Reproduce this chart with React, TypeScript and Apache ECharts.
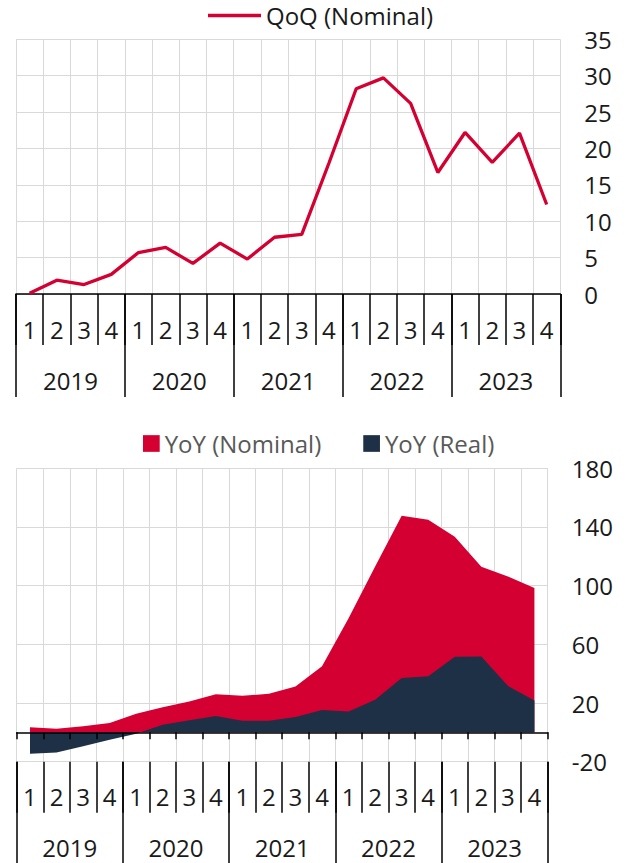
import React, { useEffect, useRef } from 'react';
import * as echarts from 'echarts';

const quarters = ['1', '2', '3', '4', '1', '2', '3', '4', '1', '2', '3', '4', '1', '2', '3', '4', '1', '2', '3', '4'];
const years = ['2019', '2020', '2021', '2022', '2023'];

const qoqNominal = [0.1, 1.9, 1.3, 2.7, 5.7, 6.4, 4.2, 7.0, 4.8, 7.8, 8.2, 18.0, 28.2, 29.7, 26.2, 16.7, 22.2, 18.1, 22.1, 12.3];
const yoyNominal = [3.4, 2.5, 4.1, 6.3, 12.7, 17.2, 21.1, 25.9, 24.9, 26.3, 31.3, 45.1, 77.8, 113.0, 147.6, 144.9, 133.3, 112.9, 106.3, 98.4];
const yoyReal = [-14.5, -13.8, -9.5, -5.0, -0.9, 5.2, 8.2, 11.1, 7.9, 7.9, 10.4, 15.2, 14.3, 22.2, 37.0, 38.3, 51.5, 51.7, 31.7, 21.8];

const topTicks = [0, 5, 10, 15, 20, 25, 30, 35];
const bottomTicks = [-20, 20, 60, 100, 140, 180];

const RED = '#D50032';
const NAVY = '#1E3046';
const GRID = '#D9D9D9';
const INK = '#1A1A1A';
const FONT = 'Open Sans';

export default function App() {
  const ref = useRef<HTMLDivElement>(null);

  useEffect(() => {
    if (!ref.current) return;
    const chart = echarts.init(ref.current, undefined, { renderer: 'svg' });

    const labelStyle = { fontFamily: FONT, fontSize: 24, color: INK };
    const blackLine = { show: true, lineStyle: { color: '#000', width: 1.5 } };
    const gridSplit = { show: true, interval: 0, lineStyle: { color: GRID, width: 1 } };

    const option: any = {
      animation: false,
      textStyle: { fontFamily: FONT },
      legend: [
        {
          data: ['QoQ (Nominal)'],
          left: 208,
          top: 1.5,
          padding: 0,
          icon: 'rect',
          itemWidth: 53,
          itemHeight: 3.4,
          itemGap: 40,
          textStyle: { fontFamily: FONT, fontSize: 24, color: INK, lineHeight: 28 },
        },
        {
          data: ['YoY (Nominal)', 'YoY (Real)'],
          left: 143,
          top: 429.5,
          padding: 0,
          icon: 'rect',
          itemWidth: 16.7,
          itemHeight: 16.7,
          itemGap: 42,
          textStyle: { fontFamily: FONT, fontSize: 24, color: '#595959', lineHeight: 28 },
        },
      ],
      grid: [
        { left: 16, top: 39.3, width: 544.3, height: 254.7, outerBoundsMode: 'none', containLabel: false },
        { left: 16.7, top: 468.3, width: 531, height: 293.4, outerBoundsMode: 'none', containLabel: false },
      ],
      xAxis: [
        {
          gridIndex: 0,
          type: 'category',
          data: quarters,
          position: 'bottom',
          boundaryGap: true,
          axisLine: blackLine,
          axisTick: { show: true, interval: 0, length: 51, lineStyle: { color: '#000', width: 1.5 } },
          axisLabel: { ...labelStyle, interval: 0, margin: 35, verticalAlign: 'middle' },
          splitLine: gridSplit,
        },
        {
          gridIndex: 0,
          type: 'category',
          data: years,
          position: 'bottom',
          boundaryGap: true,
          axisLine: { show: false },
          axisTick: { show: true, interval: 0, length: 103, lineStyle: { color: '#000', width: 1.5 } },
          axisLabel: { ...labelStyle, interval: 0, margin: 86, verticalAlign: 'middle' },
          splitLine: { show: false },
        },
        {
          gridIndex: 1,
          type: 'category',
          data: quarters,
          position: 'bottom',
          boundaryGap: true,
          axisLine: { show: false, onZero: false },
          axisTick: { show: true, interval: 0, length: 51, lineStyle: { color: '#000', width: 1.5 } },
          axisLabel: { ...labelStyle, interval: 0, margin: 35, verticalAlign: 'middle' },
          splitLine: gridSplit,
        },
        {
          gridIndex: 1,
          type: 'category',
          data: years,
          position: 'bottom',
          boundaryGap: true,
          axisLine: { show: false, onZero: false },
          axisTick: { show: true, interval: 0, length: 103, lineStyle: { color: '#000', width: 1.5 } },
          axisLabel: { ...labelStyle, interval: 0, margin: 86, verticalAlign: 'middle' },
          splitLine: { show: false },
        },
        {
          gridIndex: 1,
          type: 'category',
          data: quarters,
          position: 'bottom',
          boundaryGap: true,
          z: 10,
          axisLine: { show: true, onZero: true, lineStyle: { color: '#000', width: 1.5 } },
          axisTick: { show: true, interval: 0, length: 7, lineStyle: { color: '#000', width: 1.5 } },
          axisLabel: { show: false },
          splitLine: { show: false },
        },
      ],
      yAxis: [
        {
          gridIndex: 0,
          type: 'value',
          position: 'right',
          min: topTicks[0],
          max: topTicks[topTicks.length - 1],
          interval: topTicks[1] - topTicks[0],
          axisLine: { show: false },
          axisTick: { show: false },
          axisLabel: { ...labelStyle, margin: 24 },
          splitLine: { show: true, lineStyle: { color: GRID, width: 1 } },
        },
        {
          gridIndex: 1,
          type: 'value',
          position: 'right',
          min: bottomTicks[0],
          max: bottomTicks[bottomTicks.length - 1],
          interval: bottomTicks[1] - bottomTicks[0],
          axisLine: { show: false },
          axisTick: { show: false },
          axisLabel: { ...labelStyle, margin: 24 },
          splitLine: { show: true, lineStyle: { color: GRID, width: 1 } },
        },
      ],
      series: [
        {
          name: 'QoQ (Nominal)',
          type: 'line',
          xAxisIndex: 0,
          yAxisIndex: 0,
          data: qoqNominal,
          symbol: 'none',
          color: RED,
          lineStyle: { color: RED, width: 3.3 },
          z: 3,
        },
        {
          name: 'YoY (Nominal)',
          type: 'line',
          xAxisIndex: 2,
          yAxisIndex: 1,
          data: yoyNominal,
          symbol: 'none',
          color: RED,
          lineStyle: { width: 0 },
          areaStyle: { color: RED, opacity: 1 },
          z: 2,
        },
        {
          name: 'YoY (Real)',
          type: 'line',
          xAxisIndex: 2,
          yAxisIndex: 1,
          data: yoyReal,
          symbol: 'none',
          color: NAVY,
          lineStyle: { width: 0 },
          areaStyle: { color: NAVY, opacity: 1 },
          z: 3,
        },
      ],
    };

    chart.setOption(option);
    return () => chart.dispose();
  }, []);

  return (
    <div
      ref={ref}
      style={{ position: 'fixed', left: 0, top: 0, width: 633, height: 863, background: '#fff' }}
    />
  );
}
